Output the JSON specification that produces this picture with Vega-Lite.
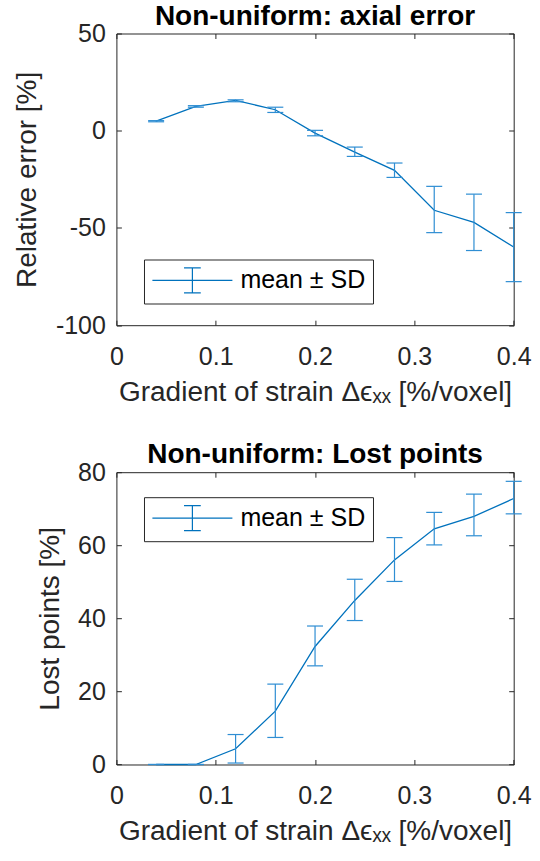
{
  "$schema": "https://vega.github.io/schema/vega-lite/v6.json",
  "background": "white",
  "padding": {"left": 12.4, "top": 1.5, "right": 0, "bottom": 0},
  "config": {
    "font": "Liberation Sans",
    "view": {"stroke": "#262626", "strokeWidth": 1},
    "axis": {
      "labelFont": "Liberation Sans",
      "titleFont": "Liberation Sans",
      "labelFontSize": 25,
      "titleFontSize": 28,
      "titleFontWeight": "normal",
      "labelColor": "#262626",
      "titleColor": "#262626",
      "labelFlush": false,
      "labelOverlap": false,
      "grid": false,
      "domain": false,
      "tickColor": "#262626",
      "tickSize": -5,
      "tickWidth": 1
    },
    "title": {
      "font": "Liberation Sans",
      "fontSize": 28,
      "fontWeight": "bold",
      "color": "black",
      "baseline": "alphabetic",
      "offset": -9,
      "anchor": "middle",
      "frame": "group"
    }
  },
  "datasets": {
    "axial": [
      {"grad": 0.04, "mean": 4.9, "lo": 4.6, "hi": 5.2},
      {"grad": 0.08, "mean": 12.5, "lo": 12.1, "hi": 12.9},
      {"grad": 0.12, "mean": 15.6, "lo": 14.9, "hi": 15.9},
      {"grad": 0.16, "mean": 10.8, "lo": 9.4, "hi": 12.1},
      {"grad": 0.20, "mean": -1.2, "lo": -2.6, "hi": 0.2},
      {"grad": 0.24, "mean": -11.0, "lo": -13.2, "hi": -8.4},
      {"grad": 0.28, "mean": -20.4, "lo": -24.0, "hi": -16.6},
      {"grad": 0.32, "mean": -40.9, "lo": -52.4, "hi": -28.6},
      {"grad": 0.36, "mean": -47.1, "lo": -61.6, "hi": -32.6},
      {"grad": 0.40, "mean": -59.8, "lo": -77.6, "hi": -42.1}
    ],
    "lost": [
      {"grad": 0.04, "mean": 0, "lo": 0, "hi": 0},
      {"grad": 0.08, "mean": 0, "lo": 0, "hi": 0},
      {"grad": 0.12, "mean": 4.3, "lo": 0.4, "hi": 8.2},
      {"grad": 0.16, "mean": 14.6, "lo": 7.4, "hi": 22.0},
      {"grad": 0.20, "mean": 32.3, "lo": 27.0, "hi": 37.9},
      {"grad": 0.24, "mean": 44.9, "lo": 39.4, "hi": 50.7},
      {"grad": 0.28, "mean": 56.0, "lo": 50.1, "hi": 62.1},
      {"grad": 0.32, "mean": 64.5, "lo": 60.1, "hi": 69.0},
      {"grad": 0.36, "mean": 67.9, "lo": 62.6, "hi": 74.0},
      {"grad": 0.40, "mean": 72.8, "lo": 68.6, "hi": 77.5}
    ]
  },
  "bounds": "flush",
  "spacing": 146.7,
  "resolve": {"scale": {"color": "independent"}, "legend": {"color": "independent"}},
  "vconcat": [
    {
      "title": "Non-uniform: axial error",
      "width": 397.3,
      "height": 291.7,
      "data": {"name": "axial"},
      "resolve": {"scale": {"x": "independent", "y": "independent"}},
      "layer": [
        {
          "mark": {"type": "line", "strokeWidth": 1.3},
          "encoding": {
            "x": {"field": "grad", "type": "quantitative", "scale": {"domain": [0, 0.4], "nice": false, "zero": false},
              "axis": {"orient": "bottom", "values": [0, 0.1, 0.2, 0.3, 0.4], "labelExpr": "'' + datum.value", "labelBaseline": "alphabetic", "labelPadding": 44, "title": "Gradient of strain Δϵₓₓ [%/voxel]", "titleBaseline": "alphabetic", "titleY": 75}},
            "y": {"field": "mean", "type": "quantitative", "scale": {"domain": [-100, 50], "nice": false, "zero": false},
              "axis": {"orient": "left", "values": [-100, -50, 0, 50], "labelExpr": "'' + datum.value", "labelPadding": 16, "title": "Relative error [%]", "titleX": -74.8}},
            "color": {"datum": "mean ± SD", "scale": {"range": ["#0072BD"]},
              "legend": {"orient": "none", "legendX": 27.6, "legendY": 226, "title": null,
                "symbolType": "M-1,0H5.4M2.2,-1V1M1.53,-1H2.87M1.53,1H2.87",
                "symbolSize": 625, "symbolStrokeWidth": 1.2, "symbolStrokeColor": "#0072BD", "symbolFillColor": "transparent",
                "labelFont": "Liberation Sans", "labelFontSize": 25, "labelColor": "black", "labelOffset": 62, "labelLimit": 400,
                "padding": 7.4, "strokeColor": "#262626", "fillColor": "white"}}
          }
        },
        {
          "mark": {"type": "rule", "color": "#2F8ED3", "strokeWidth": 1.2},
          "encoding": {
            "x": {"field": "grad", "type": "quantitative", "scale": {"domain": [0, 0.4], "nice": false, "zero": false}, "axis": null},
            "y": {"field": "lo", "type": "quantitative", "scale": {"domain": [-100, 50], "nice": false, "zero": false}, "axis": null},
            "y2": {"field": "hi"}
          }
        },
        {
          "mark": {"type": "tick", "orient": "horizontal", "size": 16, "thickness": 1.2, "color": "#2F8ED3", "opacity": 1},
          "encoding": {
            "x": {"field": "grad", "type": "quantitative", "scale": {"domain": [0, 0.4], "nice": false, "zero": false}, "axis": null},
            "y": {"field": "lo", "type": "quantitative", "scale": {"domain": [-100, 50], "nice": false, "zero": false}, "axis": null}
          }
        },
        {
          "mark": {"type": "tick", "orient": "horizontal", "size": 16, "thickness": 1.2, "color": "#2F8ED3", "opacity": 1},
          "encoding": {
            "x": {"field": "grad", "type": "quantitative", "scale": {"domain": [0, 0.4], "nice": false, "zero": false}, "axis": null},
            "y": {"field": "hi", "type": "quantitative", "scale": {"domain": [-100, 50], "nice": false, "zero": false}, "axis": null}
          }
        },
        {
          "mark": {"type": "point", "opacity": 0},
          "encoding": {
            "x": {"field": "grad", "type": "quantitative", "scale": {"domain": [0, 0.4], "nice": false, "zero": false},
              "axis": {"orient": "top", "values": [0, 0.1, 0.2, 0.3, 0.4], "labels": false, "title": null}},
            "y": {"field": "mean", "type": "quantitative", "scale": {"domain": [-100, 50], "nice": false, "zero": false},
              "axis": {"orient": "right", "values": [-100, -50, 0, 50], "labels": false, "title": null}}
          }
        }
      ]
    },
    {
      "title": "Non-uniform: Lost points",
      "width": 397.3,
      "height": 292.3,
      "data": {"name": "lost"},
      "resolve": {"scale": {"x": "independent", "y": "independent"}},
      "layer": [
        {
          "mark": {"type": "line", "strokeWidth": 1.3},
          "encoding": {
            "x": {"field": "grad", "type": "quantitative", "scale": {"domain": [0, 0.4], "nice": false, "zero": false},
              "axis": {"orient": "bottom", "values": [0, 0.1, 0.2, 0.3, 0.4], "labelExpr": "'' + datum.value", "labelBaseline": "alphabetic", "labelPadding": 44, "title": "Gradient of strain Δϵₓₓ [%/voxel]", "titleBaseline": "alphabetic", "titleY": 75}},
            "y": {"field": "mean", "type": "quantitative", "scale": {"domain": [0, 80], "nice": false, "zero": false},
              "axis": {"orient": "left", "values": [0, 20, 40, 60, 80], "labelExpr": "'' + datum.value", "labelPadding": 16, "title": "Lost points [%]", "titleX": -51.5}},
            "color": {"datum": "mean ± SD", "scale": {"range": ["#0072BD"]},
              "legend": {"orient": "none", "legendX": 27.6, "legendY": 25, "title": null,
                "symbolType": "M-1,0H5.4M2.2,-1V1M1.53,-1H2.87M1.53,1H2.87",
                "symbolSize": 625, "symbolStrokeWidth": 1.2, "symbolStrokeColor": "#0072BD", "symbolFillColor": "transparent",
                "labelFont": "Liberation Sans", "labelFontSize": 25, "labelColor": "black", "labelOffset": 62, "labelLimit": 400,
                "padding": 7.4, "strokeColor": "#262626", "fillColor": "white"}}
          }
        },
        {
          "mark": {"type": "rule", "color": "#2F8ED3", "strokeWidth": 1.2},
          "encoding": {
            "x": {"field": "grad", "type": "quantitative", "scale": {"domain": [0, 0.4], "nice": false, "zero": false}, "axis": null},
            "y": {"field": "lo", "type": "quantitative", "scale": {"domain": [0, 80], "nice": false, "zero": false}, "axis": null},
            "y2": {"field": "hi"}
          }
        },
        {
          "mark": {"type": "tick", "orient": "horizontal", "size": 16, "thickness": 1.2, "color": "#2F8ED3", "opacity": 1},
          "encoding": {
            "x": {"field": "grad", "type": "quantitative", "scale": {"domain": [0, 0.4], "nice": false, "zero": false}, "axis": null},
            "y": {"field": "lo", "type": "quantitative", "scale": {"domain": [0, 80], "nice": false, "zero": false}, "axis": null}
          }
        },
        {
          "mark": {"type": "tick", "orient": "horizontal", "size": 16, "thickness": 1.2, "color": "#2F8ED3", "opacity": 1},
          "encoding": {
            "x": {"field": "grad", "type": "quantitative", "scale": {"domain": [0, 0.4], "nice": false, "zero": false}, "axis": null},
            "y": {"field": "hi", "type": "quantitative", "scale": {"domain": [0, 80], "nice": false, "zero": false}, "axis": null}
          }
        },
        {
          "mark": {"type": "point", "opacity": 0},
          "encoding": {
            "x": {"field": "grad", "type": "quantitative", "scale": {"domain": [0, 0.4], "nice": false, "zero": false},
              "axis": {"orient": "top", "values": [0, 0.1, 0.2, 0.3, 0.4], "labels": false, "title": null}},
            "y": {"field": "mean", "type": "quantitative", "scale": {"domain": [0, 80], "nice": false, "zero": false},
              "axis": {"orient": "right", "values": [0, 20, 40, 60, 80], "labels": false, "title": null}}
          }
        }
      ]
    }
  ]
}
